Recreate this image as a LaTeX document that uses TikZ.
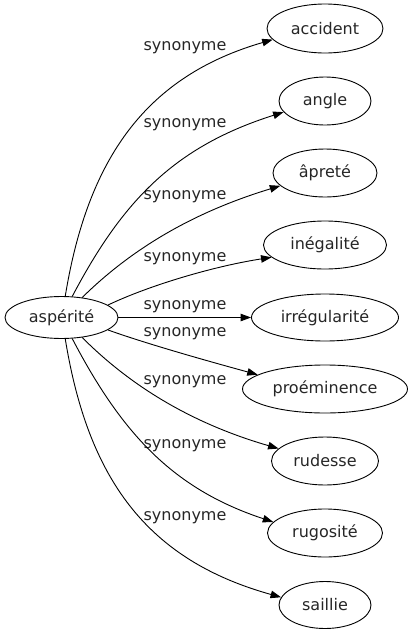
\documentclass[tikz,border=0pt]{standalone}
\usepackage{fontspec}
\setmainfont{DejaVu Sans}
\usetikzlibrary{arrows.meta,shapes.geometric}
\begin{document}
\begin{tikzpicture}[x=1pt,y=-1pt,
  every node/.style={font=\fontsize{16}{19}\selectfont, text=black!85},
  word/.style={draw=black, ellipse, inner sep=0pt, line width=0.9pt},
  lbl/.style={inner sep=0pt},
  edge/.style={draw=black, line width=0.9pt, -{Triangle[length=10.5pt,width=7.5pt]}}]
\useasboundingbox (0,0) rectangle (413,635);
\node[word, minimum width=113pt, minimum height=42pt] (src) at (61.5,317.5) {aspérité};
\node[word, minimum width=116pt, minimum height=49pt] (t1) at (325,28.5) {accident};
\node[word, minimum width=92pt, minimum height=48pt] (t2) at (325,101) {angle};
\node[word, minimum width=104pt, minimum height=48pt] (t3) at (325,173) {âpreté};
\node[word, minimum width=123pt, minimum height=48pt] (t4) at (325,245) {inégalité};
\node[word, minimum width=147pt, minimum height=47pt] (t5) at (325,317.5) {irrégularité};
\node[word, minimum width=165pt, minimum height=48pt] (t6) at (325,389) {proéminence};
\node[word, minimum width=107pt, minimum height=48pt] (t7) at (325,461) {rudesse};
\node[word, minimum width=115pt, minimum height=48pt] (t8) at (325,533) {rugosité};
\node[word, minimum width=92pt, minimum height=47pt] (t9) at (325,605) {saillie};
\node[lbl] (l1) at (185,48) {synonyme};
\node[lbl] (l2) at (185,125) {synonyme};
\node[lbl] (l3) at (185,197) {synonyme};
\node[lbl] (l4) at (185,259) {synonyme};
\node[lbl] (l5) at (185,307) {synonyme};
\node[lbl] (l6) at (185,334) {synonyme};
\node[lbl] (l7) at (185,382) {synonyme};
\node[lbl] (l8) at (185,446) {synonyme};
\node[lbl] (l9) at (185,518) {synonyme};
\draw[edge] (src.80) .. controls (88,157) and (147,76) .. (t1.192);
\draw[edge] (src.63) .. controls (123,200) and (175,146.5) .. (t2.195);
\draw[edge] (src.44) .. controls (139.8,240.7) and (206,208.4) .. (t3.196);
\draw[edge] (src.15) .. controls (150,285) and (215,266) .. (t4.193);
\draw[edge] (src.east) -- (t5.west);
\draw[edge] (src.-15) .. controls (150,345) and (215,363) .. (t6.168);
\draw[edge] (src.-44) .. controls (139.8,395.3) and (206,427.6) .. (t7.165);
\draw[edge] (src.-63) .. controls (123,436) and (175,489.5) .. (t8.168);
\draw[edge] (src.-80) .. controls (88,479) and (147,560) .. (t9.170);
\end{tikzpicture}
\end{document}
